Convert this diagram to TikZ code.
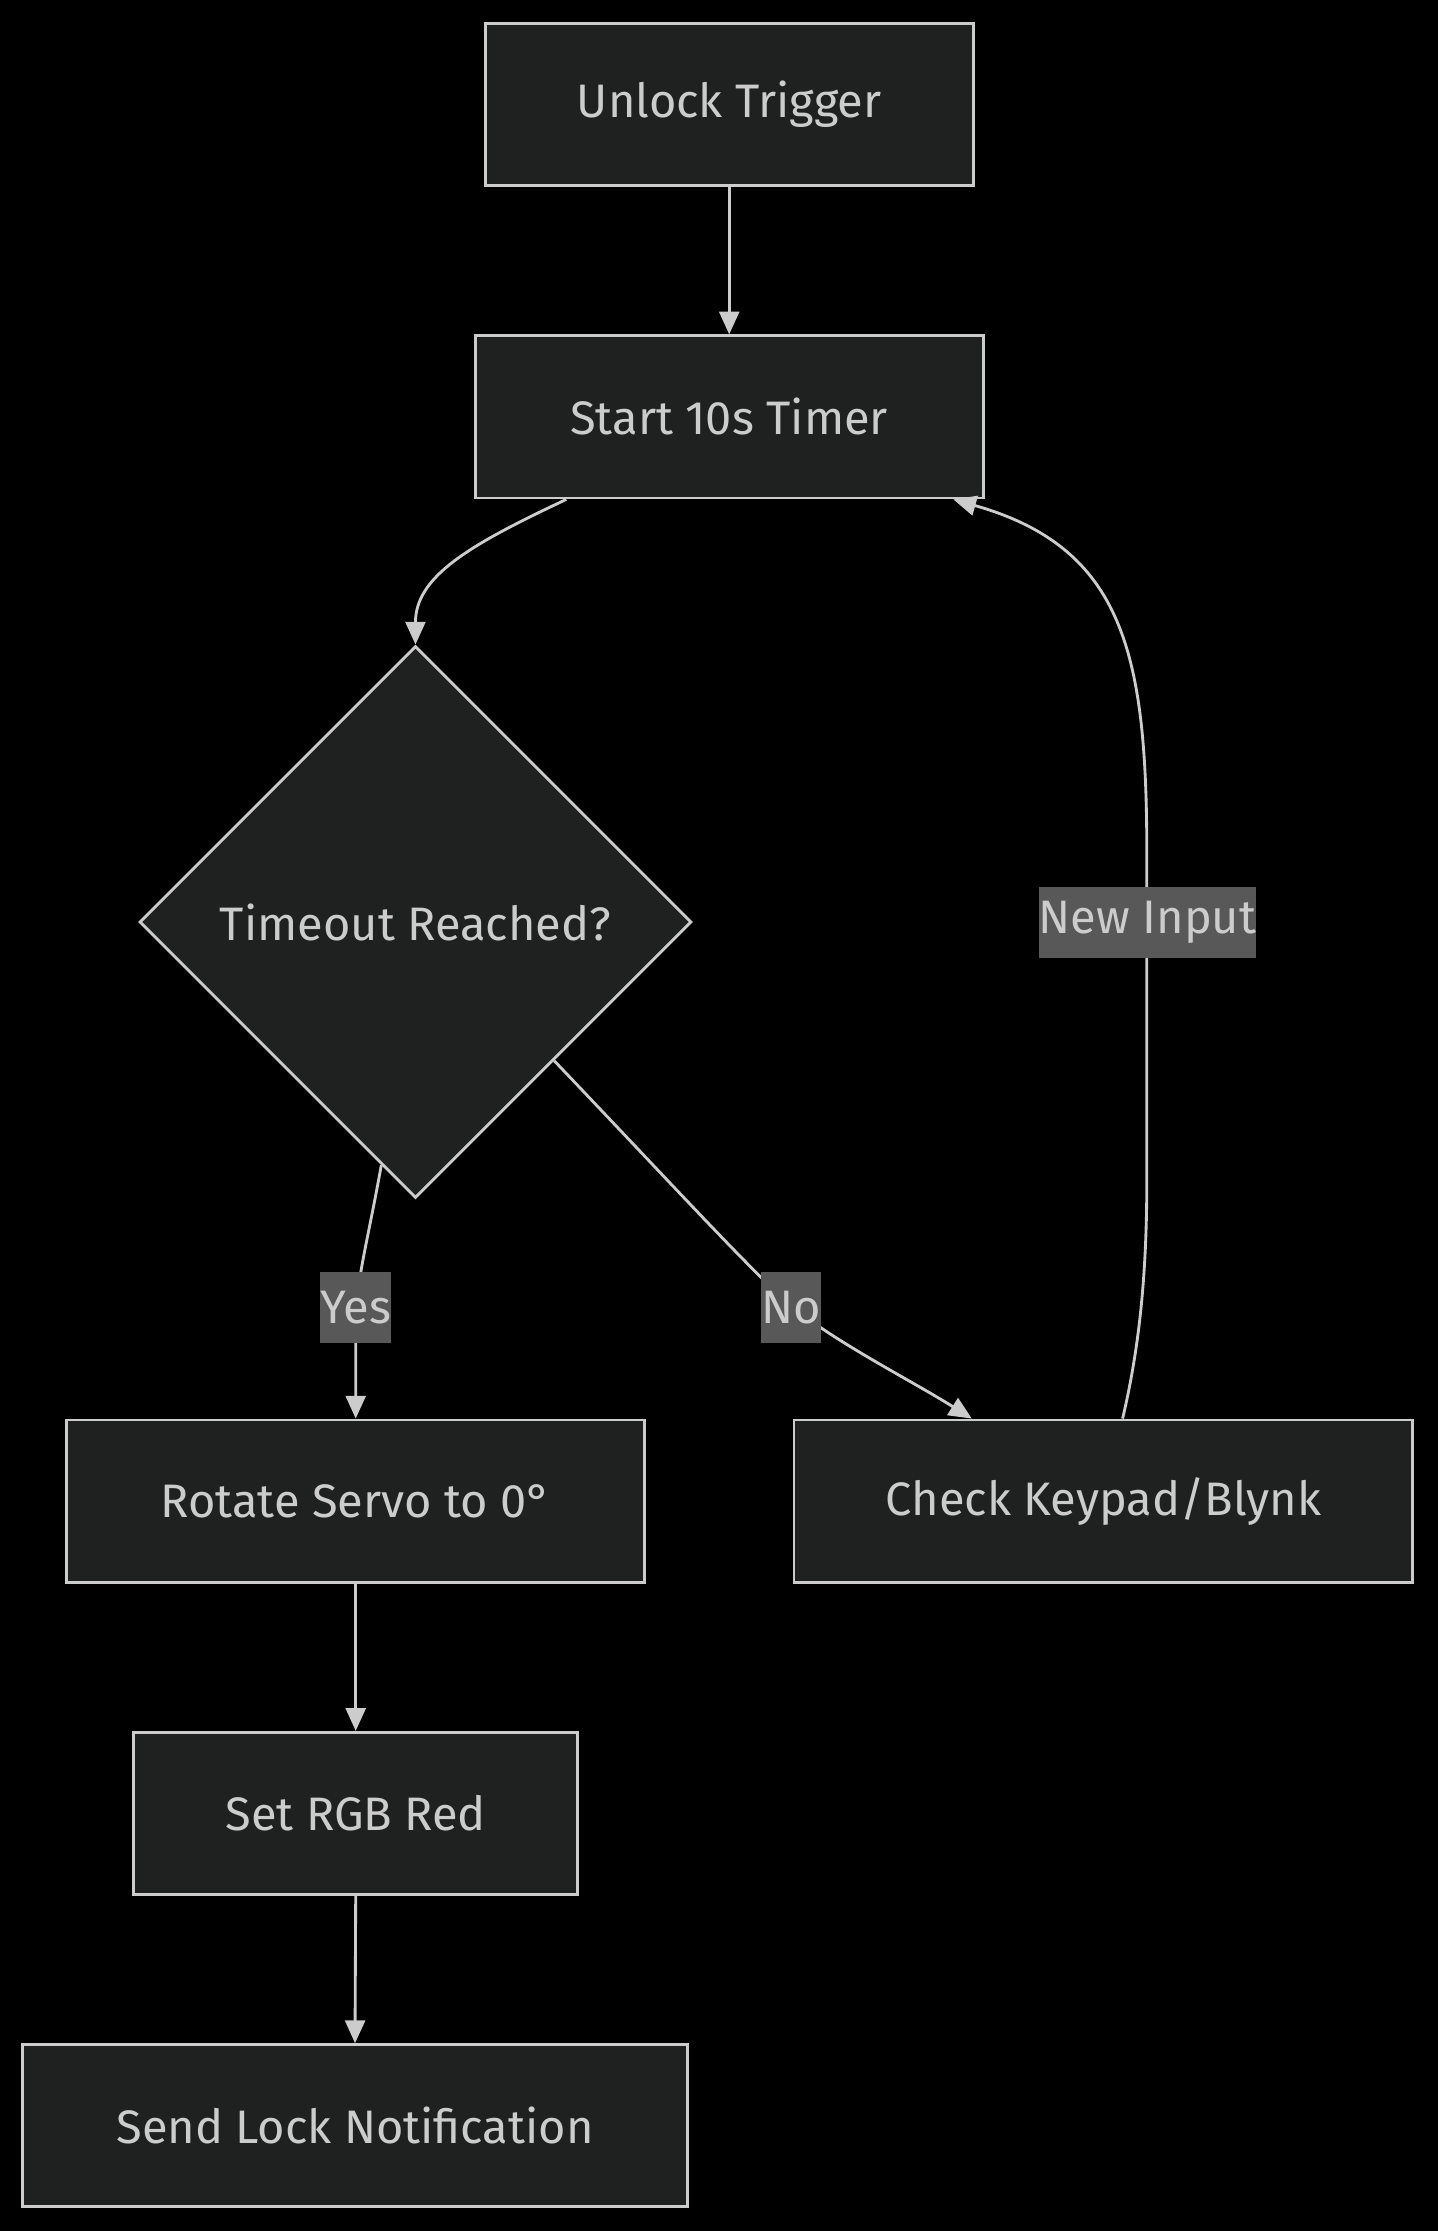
\documentclass[tikz,border=0pt]{standalone}
\usepackage{fontspec}
\setmainfont{Fira Sans}
\usetikzlibrary{shapes.geometric,arrows.meta}
\definecolor{nodefill}{HTML}{1F2020}
\definecolor{nodeline}{HTML}{CCCCCC}
\definecolor{txt}{HTML}{CCCCCC}
\definecolor{lblbg}{HTML}{585858}
\tikzset{
  box/.style={draw=nodeline,fill=nodefill,line width=2pt,text=txt,inner sep=0pt,minimum height=114pt,font=\fontsize{33}{40}\selectfont},
  decision/.style={diamond,draw=nodeline,fill=nodefill,line width=2pt,text=txt,inner sep=0pt,minimum width=388pt,minimum height=388pt,font=\fontsize{33}{40}\selectfont},
  edge/.style={draw=nodeline,line width=2pt,-{Triangle[width=14pt,length=16pt]}},
  lbl/.style={fill=lblbg,text=txt,inner xsep=0pt,inner ysep=0pt,minimum height=50pt,font=\fontsize{33}{40}\selectfont}
}
\begin{document}
\begin{tikzpicture}[x=1pt,y=-1pt]
\useasboundingbox (0,0) rectangle (1010,1568);
\fill[black] (-10,-10) rectangle (1020,1578);
\node[box,minimum width=343pt] (u) at (512.5,73.5) {Unlock Trigger};
\node[box,minimum width=357pt] (s) at (512.5,293) {Start 10s Timer};
\node[decision] (t) at (292,648) {Timeout Reached?};
\node[box,minimum width=406pt] (r) at (250,1055) {Rotate Servo to 0°};
\node[box,minimum width=435pt] (c) at (775.5,1055) {Check Keypad/Blynk};
\node[box,minimum width=312pt] (g) at (250,1274.5) {Set RGB Red};
\node[box,minimum width=467pt] (n) at (249.5,1494) {Send Lock Notification};

\draw[edge] (u.south) -- (s.north);
\draw[edge] ([xshift=-114.5pt]s.south) .. controls (330,383) and (292,405) .. (t.north);
\draw[edge] (t.-98.4) .. controls (257,880) and (250,900) .. (250,935) -- (r.north);
\draw[edge] (t.-45.6) .. controls (470,830) and (525,890) .. (556,918) .. controls (590,945) and (640,970) .. ([xshift=-92.5pt]c.north);
\draw[edge] ([xshift=13.5pt]c.north) .. controls (800,950) and (806,900) .. (806,830) -- (806,600) .. controls (806,460) and (790,385) .. ([xshift=157.5pt]s.south);
\draw[edge] (r.south) -- (g.north);
\draw[edge] (g.south) -- (n.north);

\node[lbl] (ly) at (250,919) {Yes};
\node[lbl] (ln) at (556,919) {No};
\node[lbl] (li) at (806.5,648.5) {New Input};
\end{tikzpicture}
\end{document}
